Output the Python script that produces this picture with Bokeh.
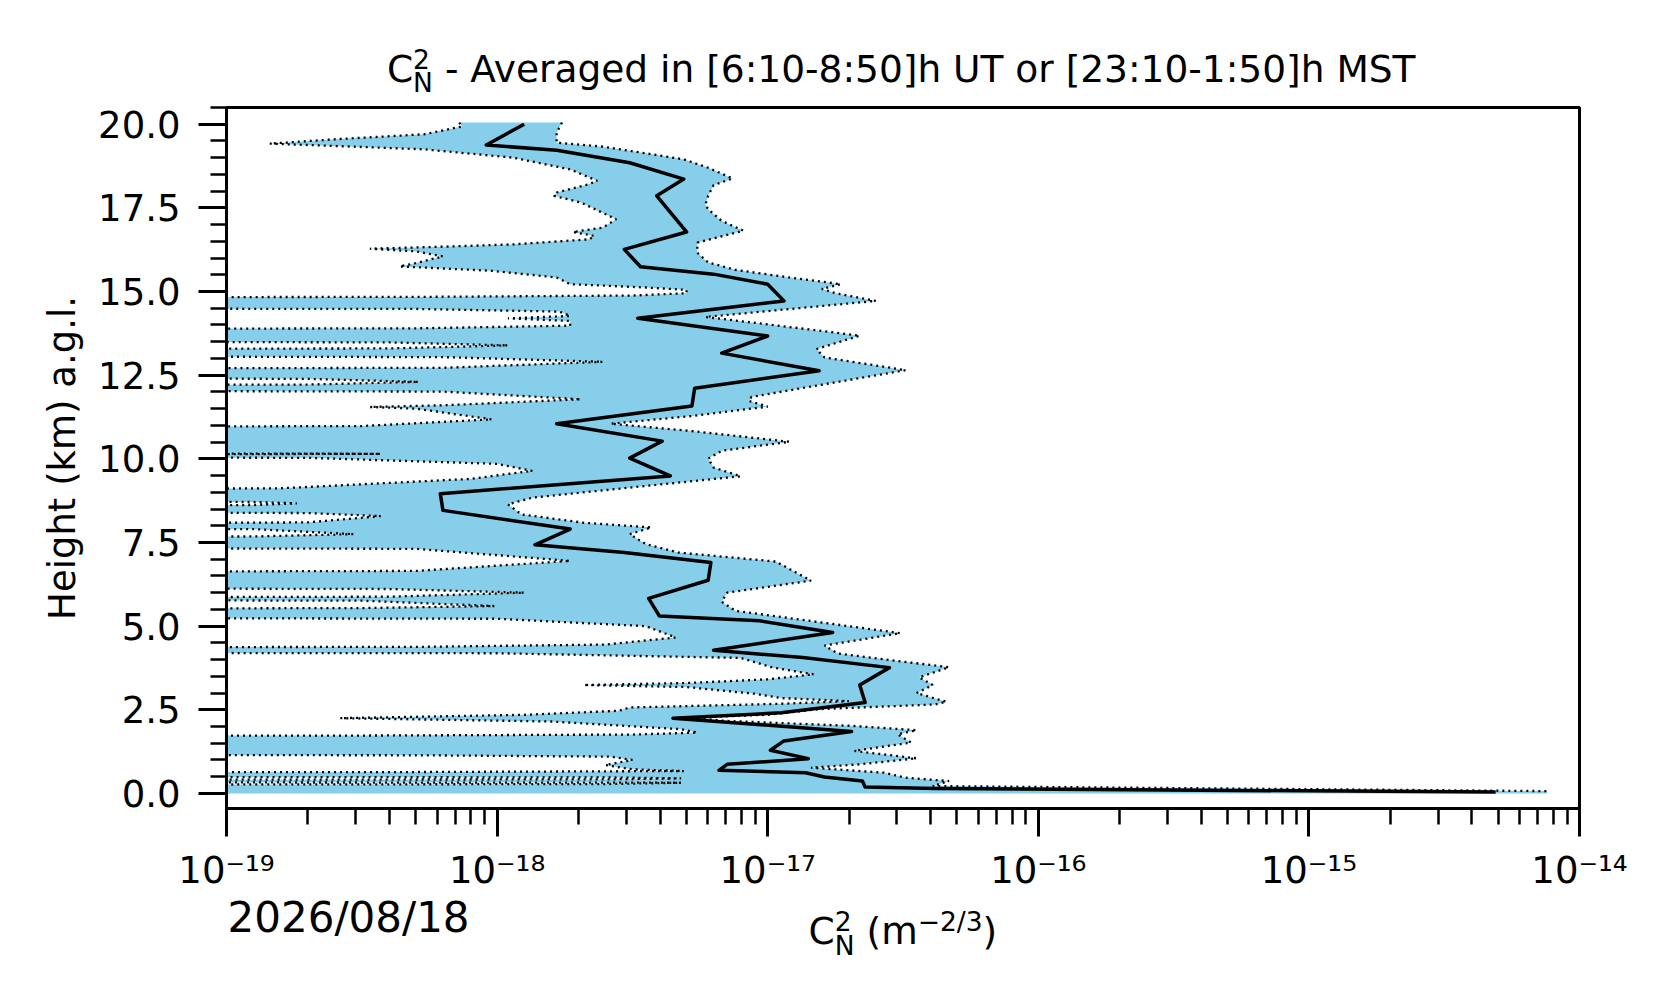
from bokeh.plotting import figure
from bokeh.layouts import column
from bokeh.models import (Range1d, FixedTicker, PrintfTickFormatter, CustomJSTickFormatter)
from bokeh.core.properties import value
from bokeh.embed import file_html
from bokeh.resources import INLINE

FONT = "DejaVu Sans"
BAND_COLOR = "#87CEEB"

# ---------------- data (heights in km a.g.l., values as log10 of Cn2 in m^-2/3) -------------
# averaged profile
mean_h = [20.00, 19.38, 19.22, 18.85, 18.36, 17.86, 16.78, 16.26, 15.74, 15.52,
          15.22, 14.72, 14.47, 14.20, 13.67, 13.16, 12.63, 12.11, 11.58, 11.05,
          10.53, 10.02, 9.49, 8.96, 8.46, 7.90, 7.43, 7.20, 6.90, 6.37,
          5.83, 5.30, 5.16, 4.81, 4.28, 4.06, 3.76, 3.24, 2.72, 2.41,
          2.25, 1.85, 1.57, 1.29, 1.04, 0.87, 0.69, 0.62, 0.49, 0.37,
          0.19, 0.15, 0.04]
mean_exp = [-17.90, -18.04, -17.78, -17.51, -17.31, -17.41, -17.30, -17.53, -17.47, -17.20,
            -17.00, -16.94, -17.20, -17.48, -17.00, -17.17, -16.81, -17.27, -17.28, -17.78,
            -17.39, -17.51, -17.36, -18.21, -18.20, -17.73, -17.86, -17.53, -17.21, -17.22,
            -17.44, -17.40, -17.03, -16.76, -17.20, -16.87, -16.55, -16.66, -16.64, -16.95,
            -17.35, -16.69, -16.94, -16.99, -16.85, -17.15, -17.18, -16.86, -16.79, -16.65,
            -16.64, -16.38, -14.31]

# upper edge of the spread (mean + sigma)
upper_h = [20.05, 19.75, 19.45, 19.33, 19.13, 18.95, 18.70, 18.38, 18.18, 17.86,
           17.60, 17.46, 17.11, 16.82, 16.46, 16.16, 15.87, 15.65, 15.42, 15.22,
           15.08, 14.95, 14.72, 14.24, 13.97, 13.68, 13.28, 13.03, 12.65, 12.23,
           11.85, 11.73, 11.56, 11.28, 11.05, 10.83, 10.51, 10.24, 10.01, 9.74,
           9.48, 9.19, 8.84, 8.64, 8.34, 8.09, 7.95, 7.75, 7.45, 7.20,
           6.93, 6.36, 6.00, 5.73, 5.46, 4.79, 4.42, 4.18, 3.77, 3.47,
           3.24, 3.00, 2.74, 2.66, 2.52, 2.35, 2.27, 2.17, 2.02, 1.89,
           1.77, 1.52, 1.27, 1.05, 0.87, 0.77, 0.62, 0.47, 0.37, 0.22,
           0.07, 0.00]
upper_exp = [-17.76, -17.78, -17.78, -17.61, -17.45, -17.31, -17.22, -17.13, -17.20, -17.22,
             -17.23, -17.22, -17.17, -17.09, -17.26, -17.26, -17.22, -17.12, -16.92, -16.73,
             -16.80, -16.75, -16.60, -17.23, -16.95, -16.66, -16.82, -16.79, -16.49, -16.79,
             -17.06, -17.07, -17.00, -17.28, -17.58, -17.28, -16.92, -17.17, -17.22, -17.20,
             -17.10, -17.45, -17.87, -17.96, -17.91, -17.68, -17.43, -17.51, -17.45, -17.33,
             -16.97, -16.84, -17.15, -17.17, -17.12, -16.51, -16.79, -16.74, -16.33, -16.44,
             -16.39, -16.45, -16.34, -16.38, -16.81, -17.00, -17.28, -17.16, -16.69, -16.45,
             -16.52, -16.47, -16.68, -16.45, -16.66, -16.84, -16.57, -16.49, -16.33, -16.39,
             -14.12, -14.12]

# lower edge of the spread (mean - sigma); NONPOS marks mean - sigma <= 0 (off the log axis)
NONPOS = -21.0
lower_h = [20.05, 19.93, 19.70, 19.55, 19.42, 19.35, 19.25, 19.00, 18.65, 18.31,
           18.21, 17.96, 17.86, 17.66, 17.16, 16.91, 16.78, 16.66, 16.56, 16.41,
           16.34, 16.28, 16.20, 16.05, 15.85, 15.75, 15.62, 15.42, 15.22, 15.12,
           15.05, 14.95, 14.88, 14.84, 14.82, 14.50, 14.48, 14.40, 14.27, 14.20,
           14.12, 13.98, 13.90, 13.87, 13.52, 13.48, 13.39, 13.30, 13.27, 13.08,
           13.04, 12.90, 12.72, 12.68, 12.43, 12.39, 12.30, 12.22, 12.18, 12.05,
           12.01, 11.78, 11.60, 11.55, 11.50, 11.18, 10.98, 10.93, 10.19, 10.15,
           10.11, 10.06, 10.03, 9.85, 9.64, 9.40, 9.12, 9.04, 8.74, 8.71,
           8.67, 8.62, 8.59, 8.42, 8.38, 8.29, 8.10, 8.04, 7.94, 7.90,
           7.75, 7.68, 7.65, 7.35, 7.31, 6.95, 6.65, 6.60, 6.15, 6.11,
           6.00, 5.88, 5.84, 5.80, 5.76, 5.60, 5.54, 5.50, 5.26, 5.22,
           5.00, 4.66, 4.45, 4.38, 4.36, 4.21, 4.19, 4.05, 3.76, 3.56,
           3.41, 3.30, 3.24, 3.18, 2.98, 2.85, 2.76, 2.68, 2.57, 2.47,
           2.35, 2.25, 2.15, 1.92, 1.82, 1.76, 1.73, 1.72, 1.16, 1.14,
           1.10, 1.00, 0.85, 0.72, 0.67, 0.64, 0.62, 0.50, 0.48, 0.45,
           0.42, 0.40, 0.34, 0.32, 0.28, 0.25, 0.00]
lower_exp = [-18.14, -18.13, -18.27, -18.60, -18.84, -18.60, -18.27, -17.94, -17.73, -17.63,
             -17.66, -17.78, -17.79, -17.69, -17.56, -17.61, -17.72, -17.64, -17.66, -17.94,
             -18.20, -18.47, -18.30, -18.20, -18.30, -18.36, -18.02, -17.78, -17.73, -17.45,
             -17.30, -17.30, -17.50, -18.30, NONPOS, NONPOS, -18.30, -17.77, -17.73, -17.96,
             -17.73, -17.73, -18.30, NONPOS, NONPOS, -18.40, -17.96, -18.40, NONPOS, NONPOS,
             -18.20, -17.61, -18.20, NONPOS, NONPOS, -18.70, -18.29, -18.70, NONPOS, NONPOS,
             -18.20, -17.69, -18.20, -18.47, -18.30, -18.02, -18.50, NONPOS, NONPOS, -18.43,
             NONPOS, NONPOS, -18.70, -18.00, -17.87, -18.10, -18.80, NONPOS, NONPOS, -18.90,
             -18.74, -18.90, NONPOS, NONPOS, -18.70, -18.43, -18.70, NONPOS, NONPOS, -18.90,
             -18.53, -18.90, NONPOS, NONPOS, -18.30, -17.73, -18.30, NONPOS, NONPOS, -18.40,
             -17.90, -18.40, NONPOS, NONPOS, -18.50, -18.01, -18.50, NONPOS, NONPOS, -18.00,
             -17.45, -17.34, -17.60, -18.30, NONPOS, NONPOS, -18.00, -17.10, -16.98, -16.83,
             -17.00, -17.30, -17.68, -17.30, -17.05, -16.95, -16.70, -16.95, -17.51, -17.55,
             -17.90, -18.58, -17.80, -17.32, -17.26, -17.50, -18.50, NONPOS, NONPOS, -18.30,
             -17.58, -17.50, -17.60, -17.50, -17.31, -18.30, NONPOS, NONPOS, -17.60, -17.32,
             -17.60, NONPOS, NONPOS, -17.32, -17.60, NONPOS, NONPOS]

# axes / ticks / texts
x_tick_decades = [-19, -18, -17, -16, -15, -14]
x_tick_labels = ["10\u207b\u00b9\u2079", "10\u207b\u00b9\u2078", "10\u207b\u00b9\u2077",
                 "10\u207b\u00b9\u2076", "10\u207b\u00b9\u2075", "10\u207b\u00b9\u2074"]
y_tick_values = [0.0, 2.5, 5.0, 7.5, 10.0, 12.5, 15.0, 17.5, 20.0]
Y_MIN, Y_MAX = -0.45, 20.5
X_DEC_MIN, X_DEC_MAX = -19, -14
title_main = "- Averaged in [6:10-8:50]h UT or [23:10-1:50]h MST"
y_label = "Height (km) a.g.l."
date_text = "2026/08/18"

# ---------------- layout geometry (pixels) ----------------
W = 1660
FRAME_L, FRAME_R = 226, 1579
TOP_H = 101          # strip holding the title
MAIN_TOP = 6         # border above the frame inside the main figure
FRAME_H = 701
MAIN_BOTTOM = 86     # ticks + tick labels
BOTTOM_H = 104       # strip holding date and x label
X_CENTER = 10.0 ** ((X_DEC_MIN + X_DEC_MAX) / 2)

# ---------------- main plot ----------------
mean_x = [10.0 ** e for e in mean_exp]
upper_x = [10.0 ** e for e in upper_exp]
lower_x = [10.0 ** e for e in lower_exp]
band_x = upper_x + lower_x[::-1]
band_y = upper_h + lower_h[::-1]

x_range = Range1d(10.0 ** X_DEC_MIN, 10.0 ** X_DEC_MAX)
p = figure(width=W, height=MAIN_TOP + FRAME_H + MAIN_BOTTOM, x_axis_type="log",
           x_range=x_range, y_range=Range1d(Y_MIN, Y_MAX),
           output_backend="svg", toolbar_location=None, title=None,
           min_border_left=FRAME_L, min_border_right=W - FRAME_R,
           min_border_top=MAIN_TOP, min_border_bottom=MAIN_BOTTOM,
           background_fill_color="white", border_fill_color="white")
p.xgrid.visible = False
p.ygrid.visible = False
p.outline_line_color = "black"
p.outline_line_width = 3
p.outline_line_alpha = 1.0

p.patch(band_x, band_y, fill_color=BAND_COLOR, line_color=None)
p.line(upper_x, upper_h, line_color="black", line_width=2.3, line_dash="2 4")
p.line(lower_x, lower_h, line_color="black", line_width=2.3, line_dash="2 4")
p.line(mean_x, mean_h, line_color="black", line_width=3.5, line_join="round")

tick_vals = [10.0 ** d for d in x_tick_decades]
minor_x = [k * 10.0 ** d for d in x_tick_decades[:-1] for k in range(2, 10)]
xa = p.xaxis[0]
xa.ticker = FixedTicker(ticks=tick_vals, minor_ticks=minor_x)
xa.formatter = CustomJSTickFormatter(args=dict(tvals=tick_vals, tlabels=x_tick_labels), code="""
    let best = 0;
    const lt = Math.log10(tick);
    for (let i = 1; i < tvals.length; i++) {
        if (Math.abs(Math.log10(tvals[i]) - lt) < Math.abs(Math.log10(tvals[best]) - lt)) best = i;
    }
    return tlabels[best];
""")
xa.major_label_text_font = FONT
xa.major_label_text_font_size = "37px"
xa.major_label_text_color = "black"
xa.major_label_standoff = 12

ya = p.yaxis[0]
minor_y = [i * 0.5 for i in range(0, 42)]
ya.ticker = FixedTicker(ticks=y_tick_values, minor_ticks=minor_y)
ya.formatter = PrintfTickFormatter(format="%.1f")
ya.major_label_text_font = FONT
ya.major_label_text_font_size = "37px"
ya.major_label_text_color = "black"
ya.major_label_standoff = 18
ya.axis_label = y_label
ya.axis_label_text_font = FONT
ya.axis_label_text_font_size = "37px"
ya.axis_label_text_font_style = "normal"
ya.axis_label_text_color = "black"
ya.axis_label_standoff = 11

for ax in (xa, ya):
    ax.axis_line_width = 3
    ax.axis_line_color = "black"
    ax.major_tick_line_width = 3
    ax.minor_tick_line_width = 2.5
    ax.major_tick_line_color = "black"
    ax.minor_tick_line_color = "black"
    ax.major_tick_out = 28
    ax.major_tick_in = 0
    ax.minor_tick_out = 16
    ax.minor_tick_in = 0


# ---------------- text strips (y measured in page pixels from the top) ----------------
def strip(height, y_top):
    f = figure(width=W, height=height, x_axis_type="log",
               x_range=x_range, y_range=Range1d(y_top + height, y_top),
               output_backend="svg", toolbar_location=None, title=None,
               x_axis_location=None, y_axis_location=None,
               min_border_left=FRAME_L, min_border_right=W - FRAME_R,
               min_border_top=0, min_border_bottom=0,
               background_fill_color="white", border_fill_color="white")
    f.xgrid.visible = False
    f.ygrid.visible = False
    f.outline_line_color = None
    return f


def put(f, xs, ys, texts, size, dx=0, align="left"):
    f.text(x=xs, y=ys, text=texts, x_offset=dx, text_font=value(FONT),
           text_font_size=value(size), text_align=value(align),
           text_baseline=value("alphabetic"), text_color="black")


top = strip(TOP_H, 0)
# title  C_N^2 - Averaged ...
put(top, [X_CENTER], [68.2], ["C"], "37.5px", dx=-516.1)
put(top, [X_CENTER], [58.8], ["2"], "26.5px", dx=-489.9)
put(top, [X_CENTER], [82.2], ["N"], "26.5px", dx=-489.9)
put(top, [X_CENTER], [68.2], [title_main], "37.5px", dx=-458.1)

bottom_y0 = TOP_H + MAIN_TOP + FRAME_H + MAIN_BOTTOM
bot = strip(BOTTOM_H, bottom_y0)
# date
put(bot, [10.0 ** X_DEC_MIN], [916.6], [date_text], "42px", dx=1)
# x axis label  C_N^2 (m^-2/3)
put(bot, [X_CENTER], [930.5], ["C"], "37.5px", dx=-94.5)
put(bot, [X_CENTER], [920.5], ["2"], "26.5px", dx=-68.3)
put(bot, [X_CENTER], [944.5], ["N"], "26.5px", dx=-68.3)
put(bot, [X_CENTER], [930.5], ["(m"], "37.5px", dx=-36.5)
put(bot, [X_CENTER], [920.5], ["\u22122/3"], "26.5px", dx=14.7)
put(bot, [X_CENTER], [930.5], [")"], "37.5px", dx=79.5)

layout = column(top, p, bot, spacing=0)
open("out.html", "w").write(file_html(layout, INLINE))
